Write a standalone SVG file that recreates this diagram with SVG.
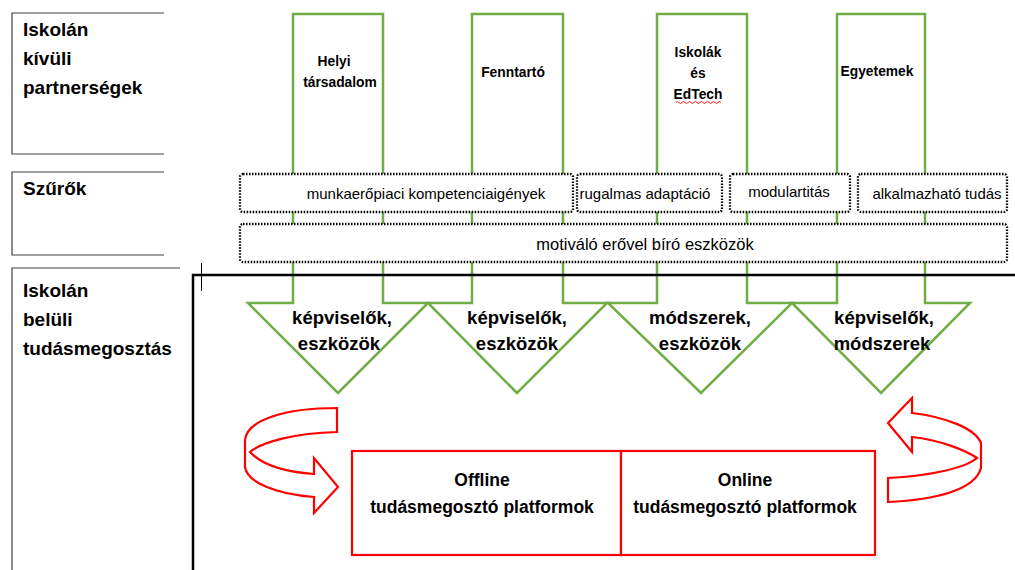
<svg xmlns="http://www.w3.org/2000/svg" width="1015" height="570" viewBox="0 0 1015 570">
<style>
.lbl{font-family:"Liberation Sans",Arial,sans-serif;font-weight:bold;font-size:19px;fill:#000}
.src{font-family:"Liberation Sans",Arial,sans-serif;font-weight:bold;font-size:13.8px;fill:#000;text-anchor:middle}
.flt{font-family:"Liberation Sans",Arial,sans-serif;font-size:15px;fill:#000;text-anchor:middle}
.flt2{font-family:"Liberation Sans",Arial,sans-serif;font-size:16.5px;fill:#000;text-anchor:middle}
.arw{font-family:"Liberation Sans",Arial,sans-serif;font-weight:bold;font-size:18.5px;fill:#000;text-anchor:middle}
.plat{font-family:"Liberation Sans",Arial,sans-serif;font-weight:bold;font-size:17.5px;fill:#000;text-anchor:middle}
.frame{fill:none;stroke:#404040;stroke-width:1.2}
.green{fill:#fff;stroke:#70AD47;stroke-width:2.5;stroke-linejoin:miter}
.dot{fill:#fff;stroke:#000;stroke-width:2.3;stroke-dasharray:1.5 1.5}
.red{fill:#fff;stroke:#FF0000;stroke-width:2.2}
</style>

<g id="label-kivuli">
<path class="frame" d="M164,13 H12 V154 H164"/>
<text class="lbl" x="23" y="36">Iskolán</text>
<text class="lbl" x="23" y="65">kívüli</text>
<text class="lbl" x="23" y="94">partnerségek</text>
</g>
<g id="label-szurok">
<path class="frame" d="M164,172 H12 V255 H164"/>
<text class="lbl" x="23" y="195">Szűrők</text>
</g>
<g id="label-belul">
<path class="frame" d="M180,268 H12 V570"/>
<text class="lbl" x="23" y="297">Iskolán</text>
<text class="lbl" x="23" y="326">belüli</text>
<text class="lbl" x="23" y="355">tudásmegosztás</text>
</g>

<g id="arrow-helyi">
<path class="green" d="M293,14 H383 V303 H428 L338,393 L248,303 H293 Z"/>
<text class="src" x="334" y="66">Helyi</text>
<text class="src" x="340" y="87">társadalom</text>
<text class="arw" x="342" y="324">képviselők,</text>
<text class="arw" x="339" y="350">eszközök</text>
</g>
<g id="arrow-fenntarto">
<path class="green" d="M472,14 H563 V303 H607 L517,393 L428,303 H472 Z"/>
<text class="src" x="513" y="77">Fenntartó</text>
<text class="arw" x="517" y="324">képviselők,</text>
<text class="arw" x="517" y="350">eszközök</text>
</g>
<g id="arrow-iskolak">
<path class="green" d="M657,14 H747 V303 H792 L701,393 L608,303 H657 Z"/>
<text class="src" x="698" y="57">Iskolák</text>
<text class="src" x="698" y="78">és</text>
<text class="src" x="698" y="99">EdTech</text>
<path d="M676,102.5 q1.5,-2 3,0 t3,0 t3,0 t3,0 t3,0 t3,0 t3,0 t3,0 t3,0 t3,0 t3,0 t3,0 t3,0 t3,0 t3,0" fill="none" stroke="#FF0000" stroke-width="0.9"/>
<text class="arw" x="700" y="324">módszerek,</text>
<text class="arw" x="700" y="350">eszközök</text>
</g>
<g id="arrow-egyetemek">
<path class="green" d="M837,14 H925 V303 H970 L881,393 L792,303 H837 Z"/>
<text class="src" x="877" y="76">Egyetemek</text>
<text class="arw" x="884" y="324">képviselők,</text>
<text class="arw" x="882" y="350">módszerek</text>
</g>

<g id="filter-munkaero">
<rect class="dot" x="240" y="174" width="333" height="38" rx="3"/>
<text class="flt" x="426" y="199">munkaerőpiaci kompetenciaigények</text>
</g>
<g id="filter-rugalmas">
<rect class="dot" x="577" y="174" width="145" height="38" rx="3"/>
<text class="flt" x="645" y="199">rugalmas adaptáció</text>
</g>
<g id="filter-modular">
<rect class="dot" x="730" y="174" width="120" height="38" rx="3"/>
<text class="flt" x="789" y="197">modulartitás</text>
</g>
<g id="filter-alkalmazhato">
<rect class="dot" x="858" y="174" width="149" height="38" rx="3"/>
<text class="flt" x="937" y="199">alkalmazható tudás</text>
</g>
<g id="filter-motivalo">
<rect class="dot" x="240" y="224" width="767" height="38" rx="3"/>
<text class="flt2" x="645" y="250">motiváló erővel bíró eszközök</text>
</g>

<g id="inner-frame">
<path d="M1015,275 H193 V570" fill="none" stroke="#000" stroke-width="2.5"/>
<line x1="201.5" y1="263" x2="201.5" y2="291" stroke="#000" stroke-width="1"/>
</g>

<g id="platform-offline">
<rect class="red" x="352" y="451" width="269" height="104"/>
<text class="plat" x="482" y="486">Offline</text>
<text class="plat" x="482" y="513">tudásmegosztó platformok</text>
</g>
<g id="platform-online">
<rect class="red" x="621" y="451" width="254" height="104"/>
<text class="plat" x="745" y="486">Online</text>
<text class="plat" x="745" y="513">tudásmegosztó platformok</text>
</g>

<g id="connectors">
<path class="red" d="M337,408 L337,432 C295,433 262,442 250,452 C262,465 285,472 314,474 L314,458 L338,487 L314,513 L314,497 C275,494 247,482 245,467 L245,440 C247,420 285,408 337,408 Z"/>
<path class="red" d="M912,413 C945,417 975,428 981,443 L981,468 C975,490 935,500 888,502 L888,478 C930,476 965,468 977,458 C965,450 940,440 912,437 L912,452 L888,423 L912,398 Z"/>
</g>
</svg>
